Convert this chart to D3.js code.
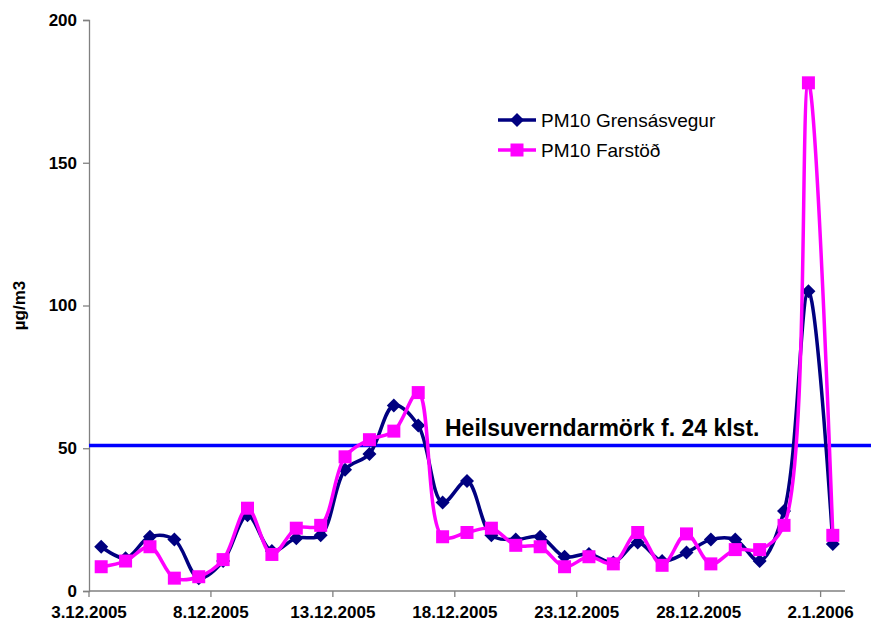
<!DOCTYPE html>
<html>
<head>
<meta charset="utf-8">
<script src="https://cdn.jsdelivr.net/npm/d3@7/dist/d3.min.js"></script>
<style>
  html, body { margin: 0; padding: 0; background: #fff; }
  svg { display: block; font-family: "Liberation Sans", Arial, sans-serif; }
</style>
</head>
<body>
<svg id="chart" width="871" height="627"></svg>
<script>
// ---- data ----
const categories = [
  "3.12.2005","4.12.2005","5.12.2005","6.12.2005","7.12.2005","8.12.2005","9.12.2005",
  "10.12.2005","11.12.2005","12.12.2005","13.12.2005","14.12.2005","15.12.2005","16.12.2005",
  "17.12.2005","18.12.2005","19.12.2005","20.12.2005","21.12.2005","22.12.2005","23.12.2005",
  "24.12.2005","25.12.2005","26.12.2005","27.12.2005","28.12.2005","29.12.2005","30.12.2005",
  "31.12.2005","1.1.2006","2.1.2006"
];
const grensasvegur = [15.5, 11.5, 19, 18, 4.5, 10.5, 26.5, 14, 18.5, 19.5, 42.5, 48, 65, 58, 31,
  38.5, 19.5, 18, 19, 12, 13, 10, 17, 10.5, 13.5, 18, 18, 10.5, 28, 105, 16.5];
const farstod = [8.5, 10.5, 15.5, 4.5, 5, 11, 29, 12.8, 22, 23, 47, 53, 56, 69.5, 19,
  20.5, 22, 16, 15.5, 8.5, 12, 9.5, 20.5, 9, 20, 9.5, 14.5, 14.5, 23, 178, 19.5];
const tickLabels = ["3.12.2005","8.12.2005","13.12.2005","18.12.2005","23.12.2005","28.12.2005","2.1.2006"];
const yTicks = [0, 50, 100, 150, 200];
const limitValue = 51;
const limitLabel = "Heilsuverndarmörk f. 24 klst.";
const seriesNames = ["PM10 Grensásvegur", "PM10 Farstöð"];
const yTitle = "µg/m3";

// ---- layout ----
const svg = d3.select("#chart");
const W = 871, H = 627;
const x0 = 89, x1 = 845, yTop = 20, yBot = 591;

const x = d3.scaleBand().domain(categories).range([x0, x1]).padding(0);
const y = d3.scaleLinear().domain([0, 200]).range([yBot, yTop]);
const cx = d => x(d) + x.bandwidth() / 2;

const axisColor = "#808080";

// y axis
const yAxis = d3.axisLeft(y).tickValues(yTicks).tickSize(6).tickPadding(6);
const gy = svg.append("g").attr("transform", `translate(${x0},0)`).call(yAxis);
gy.select(".domain").attr("stroke", axisColor).attr("stroke-width", 1.3);
gy.selectAll(".tick line").attr("stroke", axisColor).attr("stroke-width", 1.3);
gy.selectAll(".tick text").attr("font-size", 17).attr("font-weight", "bold").attr("fill", "#000");

// x axis (ticks at band start)
const gx = svg.append("g").attr("transform", `translate(0,${yBot})`);
gx.append("line").attr("x1", x0).attr("x2", x1).attr("y1", 0).attr("y2", 0)
  .attr("stroke", axisColor).attr("stroke-width", 1.3);
const tickG = gx.selectAll("g.tk").data(tickLabels).enter().append("g")
  .attr("transform", d => `translate(${x(d)},0)`);
tickG.append("line").attr("y1", 0).attr("y2", 6).attr("stroke", axisColor).attr("stroke-width", 1.3);
tickG.append("text").attr("y", 27).attr("text-anchor", "middle")
  .attr("font-size", 17).attr("font-weight", "bold").text(d => d);

// y title
svg.append("text").attr("transform", `translate(25,${(yTop + yBot) / 2}) rotate(-90)`)
  .attr("text-anchor", "middle").attr("font-size", 17).attr("font-weight", "bold").text(yTitle);

// limit line
svg.append("line").attr("x1", x0).attr("x2", W)
  .attr("y1", y(limitValue)).attr("y2", y(limitValue))
  .attr("stroke", "#0000FF").attr("stroke-width", 3.5);
svg.append("text").attr("x", 445).attr("y", y(limitValue) - 9)
  .attr("font-size", 23).attr("font-weight", "bold").text(limitLabel);

// series
const curve = d3.curveCatmullRom.alpha(0.5);
const series = [
  { name: seriesNames[0], values: grensasvegur, color: "#000080", marker: "diamond" },
  { name: seriesNames[1], values: farstod, color: "#FF00FF", marker: "square" }
];
const diamond = s => `M0,${-s}L${s},0L0,${s}L${-s},0Z`;
const square = s => `M${-s},${-s}H${s}V${s}H${-s}Z`;

series.forEach(s => {
  const line = d3.line().x((d, i) => cx(categories[i])).y(d => y(d)).curve(curve);
  svg.append("path").datum(s.values).attr("d", line)
    .attr("fill", "none").attr("stroke", s.color).attr("stroke-width", 3.5)
    .attr("stroke-linejoin", "round");
  svg.append("g").selectAll("path").data(s.values).enter().append("path")
    .attr("transform", (d, i) => `translate(${cx(categories[i])},${y(d)})`)
    .attr("d", s.marker === "diamond" ? diamond(7) : square(6.5))
    .attr("fill", s.color);
});

// legend
const legY = [120, 150];
series.forEach((s, i) => {
  const g = svg.append("g").attr("transform", `translate(0,${legY[i]})`);
  g.append("line").attr("x1", 498).attr("x2", 536).attr("stroke", s.color).attr("stroke-width", 3.5);
  g.append("path").attr("transform", "translate(517,0)")
    .attr("d", s.marker === "diamond" ? diamond(7) : square(6.5)).attr("fill", s.color);
  g.append("text").attr("x", 541).attr("y", 0).attr("dy", "0.35em")
    .attr("font-size", 19).text(s.name);
});
</script>
</body>
</html>
